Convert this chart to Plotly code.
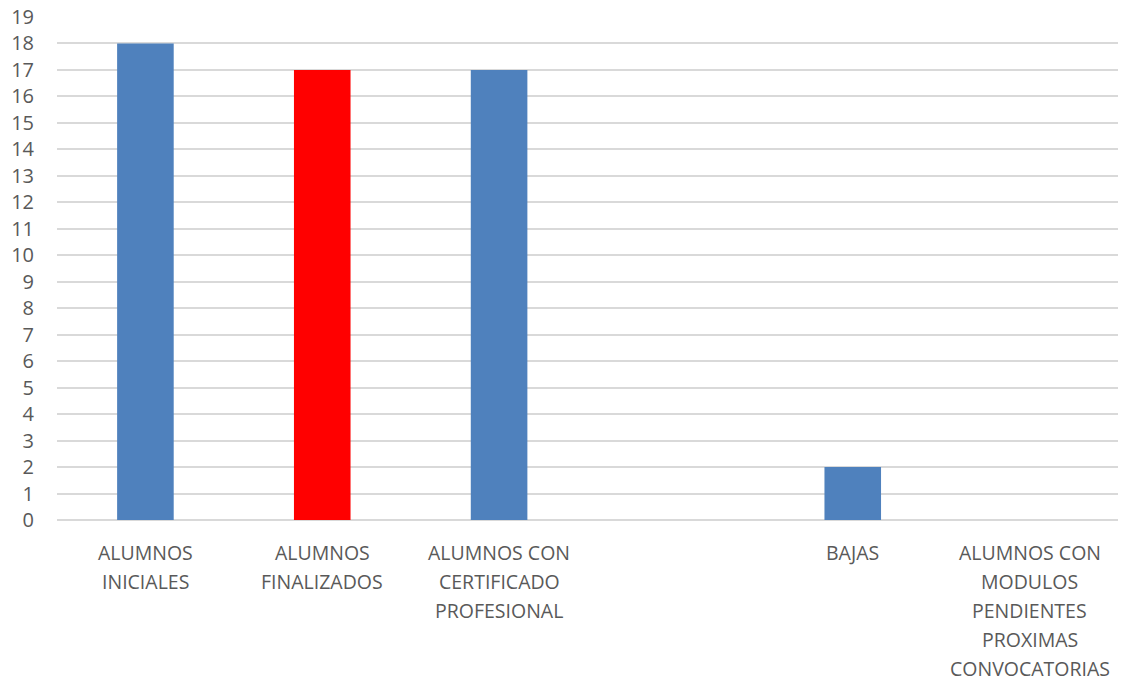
import plotly.graph_objects as go

categories = [
    "ALUMNOS<br>INICIALES",
    "ALUMNOS<br>FINALIZADOS",
    "ALUMNOS CON<br>CERTIFICADO<br>PROFESIONAL",
    "",
    "BAJAS",
    "ALUMNOS CON<br>MODULOS<br>PENDIENTES<br>PROXIMAS<br>CONVOCATORIAS",
]
values = [18, 17, 17, None, 2, None]
colors = ["#4F81BD", "#FF0000", "#4F81BD", "#4F81BD", "#4F81BD", "#4F81BD"]
y_ticks = list(range(0, 20))

FONT = "Open Sans"
TXT = "#595959"

x_idx = list(range(len(categories)))

fig = go.Figure(
    go.Bar(x=x_idx, y=values, marker=dict(color=colors, line=dict(width=0)), width=0.32)
)

annotations = []
for i, lab in enumerate(categories):
    for j, line in enumerate(lab.split("<br>")):
        if not line:
            continue
        annotations.append(dict(
            x=i, xref="x", y=0, yref="paper", yanchor="middle", xanchor="center",
            yshift=-32 - 29 * j, text=line, showarrow=False,
            font=dict(family=FONT, size=19.5, color=TXT),
        ))

fig.update_layout(
    width=1122, height=682,
    margin=dict(l=57, r=4, t=17, b=162),
    paper_bgcolor="white", plot_bgcolor="white",
    showlegend=False,
    annotations=annotations,
    xaxis=dict(
        tickvals=x_idx, ticktext=[""] * len(x_idx),
        range=[-0.5, len(categories) - 0.5],
        showgrid=False, zeroline=False, showline=False,
        automargin=False,
    ),
    yaxis=dict(
        range=[0, 19], tickvals=y_ticks,
        showgrid=True, gridcolor="#D9D9D9", gridwidth=1.5,
        zeroline=True, zerolinecolor="#D9D9D9", zerolinewidth=1.5,
        tickfont=dict(family=FONT, size=20, color=TXT),
        ticklabelstandoff=22,
        showline=False,
        automargin=False,
    ),
)

fig.write_html("out.html", config={"displayModeBar": False})
with open("out.html", "r", encoding="utf-8") as f:
    html = f.read()
html = html.replace("<head>", "<head><style>html,body{margin:0;padding:0;overflow:hidden;}</style>", 1)
with open("out.html", "w", encoding="utf-8") as f:
    f.write(html)
